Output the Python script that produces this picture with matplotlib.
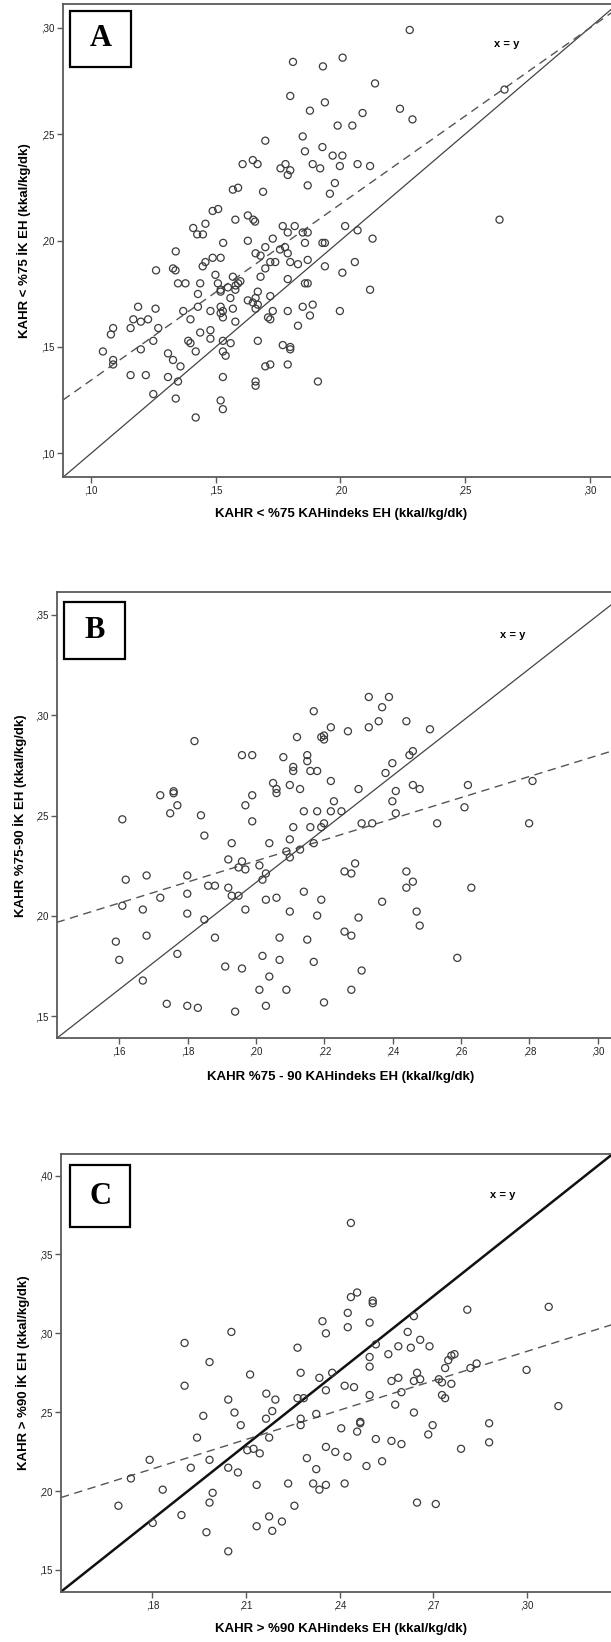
import numpy as np
import matplotlib
matplotlib.use("Agg")
import matplotlib.pyplot as plt
from matplotlib.patches import Rectangle

# Panel A: KAHR < %75
a_x = [0.2278, 0.2009, 0.1810, 0.1930, 0.2139, 0.2658, 0.1799, 0.1938, 0.1878, 0.2239,
       0.2089, 0.2289, 0.1989, 0.2048, 0.1849, 0.1699, 0.1928, 0.1858, 0.1969, 0.2008,
       0.1649, 0.1608, 0.1668, 0.1780, 0.1889, 0.2069, 0.1760, 0.1919, 0.1998, 0.2119,
       0.1799, 0.1789, 0.1978, 0.1869, 0.1569, 0.1590, 0.1690, 0.1958, 0.1488, 0.1510,
       0.1629, 0.1651, 0.1658, 0.1579, 0.2638, 0.1410, 0.1426, 0.1449, 0.1459, 0.1769,
       0.1817, 0.1789, 0.1849, 0.1869, 0.2019, 0.2069, 0.2129, 0.1530, 0.1629, 0.1729,
       0.1858, 0.1928, 0.1938, 0.1699, 0.1758, 0.1778, 0.1340, 0.1660, 0.1680, 0.1789,
       0.1488, 0.1520, 0.1459, 0.1448, 0.1719, 0.1739, 0.1799, 0.2058, 0.1869, 0.1261,
       0.1329, 0.1339, 0.1499, 0.1699, 0.1830, 0.1938, 0.1569, 0.1680, 0.1789, 0.2008,
       0.1349, 0.1379, 0.1438, 0.1509, 0.1580, 0.1599, 0.1590, 0.1858, 0.1869, 0.1549,
       0.1520, 0.1520, 0.1579, 0.2119, 0.1429, 0.1669, 0.1559, 0.1660, 0.1719, 0.1629,
       0.1649, 0.1669, 0.1189, 0.1429, 0.1520, 0.1849, 0.1889, 0.1259, 0.1569, 0.1660,
       0.1370, 0.1479, 0.1529, 0.1520, 0.1729, 0.1789, 0.1998, 0.1529, 0.1399, 0.1170,
       0.1200, 0.1229, 0.1579, 0.1710, 0.1719, 0.1878, 0.1830, 0.1159, 0.1089, 0.1270,
       0.1080, 0.1438, 0.1479, 0.1479, 0.1390, 0.1399, 0.1250, 0.1529, 0.1560, 0.1669,
       0.1769, 0.1799, 0.1799, 0.1200, 0.1048, 0.1309, 0.1420, 0.1529, 0.1540, 0.1329,
       0.1089, 0.1089, 0.1359, 0.1699, 0.1719, 0.1789, 0.1159, 0.1220, 0.1309, 0.1529,
       0.1349, 0.1660, 0.1660, 0.1910, 0.1250, 0.1340, 0.1520, 0.1529, 0.1420]
a_y = [0.2989, 0.2859, 0.2839, 0.2818, 0.2738, 0.2709, 0.2679, 0.2649, 0.2610, 0.2619,
       0.2599, 0.2569, 0.2540, 0.2540, 0.2489, 0.2469, 0.2439, 0.2419, 0.2399, 0.2399,
       0.2378, 0.2359, 0.2359, 0.2359, 0.2359, 0.2359, 0.2339, 0.2339, 0.2350, 0.2350,
       0.2330, 0.2308, 0.2270, 0.2259, 0.2239, 0.2248, 0.2229, 0.2220, 0.2139, 0.2148,
       0.2118, 0.2098, 0.2089, 0.2098, 0.2098, 0.2059, 0.2029, 0.2029, 0.2079, 0.2068,
       0.2068, 0.2038, 0.2038, 0.2038, 0.2068, 0.2048, 0.2009, 0.1989, 0.1999, 0.2009,
       0.1989, 0.1989, 0.1989, 0.1969, 0.1958, 0.1969, 0.1949, 0.1940, 0.1929, 0.1940,
       0.1919, 0.1919, 0.1899, 0.1879, 0.1899, 0.1899, 0.1899, 0.1899, 0.1909, 0.1860,
       0.1869, 0.1860, 0.1839, 0.1869, 0.1889, 0.1879, 0.1830, 0.1830, 0.1819, 0.1849,
       0.1799, 0.1799, 0.1799, 0.1799, 0.1789, 0.1809, 0.1799, 0.1799, 0.1799, 0.1780,
       0.1769, 0.1760, 0.1769, 0.1769, 0.1749, 0.1760, 0.1730, 0.1730, 0.1739, 0.1719,
       0.1709, 0.1699, 0.1689, 0.1689, 0.1689, 0.1689, 0.1699, 0.1680, 0.1680, 0.1680,
       0.1669, 0.1669, 0.1669, 0.1659, 0.1669, 0.1669, 0.1669, 0.1639, 0.1630, 0.1630,
       0.1619, 0.1630, 0.1619, 0.1639, 0.1630, 0.1648, 0.1600, 0.1589, 0.1589, 0.1589,
       0.1559, 0.1568, 0.1579, 0.1539, 0.1529, 0.1518, 0.1529, 0.1529, 0.1518, 0.1529,
       0.1509, 0.1500, 0.1489, 0.1489, 0.1479, 0.1470, 0.1479, 0.1479, 0.1459, 0.1439,
       0.1439, 0.1418, 0.1409, 0.1409, 0.1418, 0.1418, 0.1368, 0.1368, 0.1359, 0.1359,
       0.1338, 0.1338, 0.1318, 0.1338, 0.1279, 0.1258, 0.1249, 0.1208, 0.1169]

# Panel B: KAHR %75-90
b_x = [0.2330, 0.2389, 0.2369, 0.2169, 0.2359, 0.2440, 0.2330, 0.2219, 0.2509, 0.2269,
       0.2191, 0.2199, 0.2199, 0.2120, 0.1820, 0.1959, 0.1989, 0.2080, 0.2150, 0.2150,
       0.2449, 0.2459, 0.2399, 0.2109, 0.2109, 0.2159, 0.2179, 0.2379, 0.2219, 0.2809,
       0.2050, 0.2060, 0.2060, 0.2099, 0.2129, 0.2300, 0.2409, 0.2459, 0.2479, 0.2620,
       0.1720, 0.1759, 0.1759, 0.1989, 0.1770, 0.1969, 0.1749, 0.2228, 0.2399, 0.2610,
       0.1609, 0.1839, 0.1989, 0.2140, 0.2179, 0.2219, 0.2250, 0.2409, 0.2309, 0.2340,
       0.2530, 0.2799, 0.2109, 0.2159, 0.2191, 0.2199, 0.1849, 0.1929, 0.2039, 0.2169,
       0.2099, 0.2129, 0.2089, 0.2099, 0.1919, 0.1959, 0.2290, 0.1949, 0.1969, 0.2010,
       0.2259, 0.2279, 0.2440, 0.2029, 0.1619, 0.1680, 0.1799, 0.2019, 0.2459, 0.1860,
       0.1880, 0.1919, 0.2440, 0.2630, 0.1799, 0.1929, 0.1949, 0.1720, 0.2029, 0.2060,
       0.2140, 0.2191, 0.2369, 0.1609, 0.1669, 0.1969, 0.2099, 0.2470, 0.1799, 0.2179,
       0.2300, 0.1849, 0.2479, 0.2259, 0.2279, 0.1590, 0.1680, 0.1880, 0.2069, 0.2150,
       0.1600, 0.1770, 0.2019, 0.2069, 0.2589, 0.1910, 0.1959, 0.2169, 0.2309, 0.1669,
       0.2039, 0.2010, 0.2089, 0.2279, 0.2199, 0.1739, 0.1799, 0.1830, 0.2029, 0.1939]
b_y = [0.3091, 0.3091, 0.3040, 0.3020, 0.2970, 0.2970, 0.2940, 0.2940, 0.2930, 0.2920,
       0.2891, 0.2899, 0.2879, 0.2891, 0.2871, 0.2801, 0.2801, 0.2791, 0.2801, 0.2771,
       0.2801, 0.2821, 0.2761, 0.2742, 0.2722, 0.2722, 0.2722, 0.2712, 0.2672, 0.2672,
       0.2662, 0.2632, 0.2612, 0.2652, 0.2632, 0.2632, 0.2622, 0.2652, 0.2632, 0.2652,
       0.2601, 0.2621, 0.2611, 0.2601, 0.2551, 0.2551, 0.2511, 0.2571, 0.2571, 0.2541,
       0.2481, 0.2501, 0.2471, 0.2521, 0.2521, 0.2521, 0.2521, 0.2511, 0.2461, 0.2461,
       0.2461, 0.2461, 0.2442, 0.2442, 0.2442, 0.2461, 0.2400, 0.2362, 0.2362, 0.2362,
       0.2381, 0.2330, 0.2321, 0.2291, 0.2281, 0.2271, 0.2261, 0.2241, 0.2231, 0.2251,
       0.2221, 0.2211, 0.2221, 0.2211, 0.2180, 0.2201, 0.2201, 0.2180, 0.2170, 0.2150,
       0.2150, 0.2140, 0.2140, 0.2140, 0.2110, 0.2100, 0.2100, 0.2090, 0.2080, 0.2090,
       0.2120, 0.2080, 0.2070, 0.2050, 0.2031, 0.2031, 0.2021, 0.2021, 0.2011, 0.2001,
       0.1991, 0.1981, 0.1951, 0.1921, 0.1901, 0.1871, 0.1901, 0.1891, 0.1891, 0.1881,
       0.1780, 0.1810, 0.1800, 0.1780, 0.1790, 0.1747, 0.1737, 0.1770, 0.1727, 0.1677,
       0.1697, 0.1631, 0.1631, 0.1631, 0.1568, 0.1561, 0.1551, 0.1541, 0.1551, 0.1522]

# Panel C: KAHR > %90
c_x = [0.2436, 0.2456, 0.2436, 0.2506, 0.2506, 0.3070, 0.2809, 0.2426, 0.2638, 0.2345,
       0.2496, 0.2426, 0.2053, 0.2618, 0.2356, 0.1903, 0.2516, 0.2588, 0.2628, 0.2688,
       0.2265, 0.2658, 0.2556, 0.2758, 0.2768, 0.2748, 0.2496, 0.1983, 0.2839, 0.2819,
       0.2738, 0.2496, 0.2999, 0.2275, 0.2376, 0.2648, 0.2113, 0.2335, 0.2588, 0.2658,
       0.2718, 0.2638, 0.2566, 0.2728, 0.2758, 0.1903, 0.2416, 0.2446, 0.2356, 0.2598,
       0.2165, 0.2496, 0.2728, 0.2738, 0.2265, 0.2285, 0.2043, 0.2194, 0.2578, 0.3101,
       0.2063, 0.2184, 0.2638, 0.1963, 0.2325, 0.2275, 0.2164, 0.2466, 0.2466, 0.2879,
       0.2083, 0.2275, 0.2698, 0.2405, 0.2456, 0.2684, 0.1943, 0.2174, 0.2516, 0.2566,
       0.2598, 0.2879, 0.2104, 0.2124, 0.2144, 0.2356, 0.2386, 0.2789, 0.2425, 0.2295,
       0.1791, 0.1983, 0.2536, 0.1923, 0.2043, 0.2486, 0.2325, 0.1731, 0.2074, 0.2235,
       0.2315, 0.2416, 0.2134, 0.2356, 0.2335, 0.1833, 0.1993, 0.1983, 0.2648, 0.2708,
       0.1691, 0.2255, 0.1893, 0.2174, 0.2215, 0.1801, 0.2134, 0.1973, 0.2184, 0.2043]
c_y = [0.3700, 0.3259, 0.3230, 0.3207, 0.3191, 0.3168, 0.3150, 0.3130, 0.3109, 0.3077,
       0.3068, 0.3039, 0.3009, 0.3009, 0.3000, 0.2939, 0.2930, 0.2918, 0.2909, 0.2918,
       0.2909, 0.2959, 0.2868, 0.2859, 0.2868, 0.2830, 0.2850, 0.2818, 0.2809, 0.2780,
       0.2780, 0.2789, 0.2768, 0.2750, 0.2750, 0.2750, 0.2739, 0.2718, 0.2718, 0.2709,
       0.2709, 0.2698, 0.2698, 0.2689, 0.2680, 0.2668, 0.2668, 0.2659, 0.2639, 0.2627,
       0.2618, 0.2609, 0.2609, 0.2589, 0.2589, 0.2589, 0.2580, 0.2580, 0.2548, 0.2539,
       0.2498, 0.2507, 0.2498, 0.2477, 0.2489, 0.2459, 0.2459, 0.2439, 0.2430, 0.2430,
       0.2418, 0.2418, 0.2418, 0.2398, 0.2377, 0.2359, 0.2339, 0.2339, 0.2330, 0.2318,
       0.2298, 0.2309, 0.2259, 0.2268, 0.2239, 0.2280, 0.2248, 0.2268, 0.2218, 0.2209,
       0.2198, 0.2198, 0.2189, 0.2148, 0.2148, 0.2159, 0.2139, 0.2080, 0.2118, 0.2048,
       0.2048, 0.2048, 0.2039, 0.2039, 0.2009, 0.2009, 0.1989, 0.1927, 0.1927, 0.1918,
       0.1907, 0.1907, 0.1848, 0.1839, 0.1807, 0.1798, 0.1777, 0.1739, 0.1748, 0.1618]

# axis ranges and reference lines (solid = "x = y", dashed = fit)
a_lim_x, a_lim_y = [0.0888, 0.3111], [0.0888, 0.3111]
b_lim_x, b_lim_y = [0.1417, 0.3086], [0.1389, 0.3613]
c_lim_x, c_lim_y = [0.1507, 0.3276], [0.1362, 0.4139]
a_fit = [0.1251, 0.3090]
b_fit = [0.1967, 0.2845]
c_fit = [0.1959, 0.3057]

a_ticks_x = [0.10, 0.15, 0.20, 0.25, 0.30]
a_ticks_y = [0.10, 0.15, 0.20, 0.25, 0.30]
b_ticks_x = [0.16, 0.18, 0.20, 0.22, 0.24, 0.26, 0.28, 0.30]
b_ticks_y = [0.15, 0.20, 0.25, 0.30, 0.35]
c_ticks_x = [0.18, 0.21, 0.24, 0.27, 0.30]
c_ticks_y = [0.15, 0.20, 0.25, 0.30, 0.35, 0.40]

W, H = 611, 1642
fig = plt.figure(figsize=(W / 100, H / 100), dpi=100)
fig.patch.set_facecolor('white')

SANS = ['Liberation Sans', 'DejaVu Sans']
GRAY = '#5a5a5a'


def fmt(v):
    return ('%.2f' % v)[1:].replace('.', ',')


def panel(box, xs, ys, limx, limy, fit, tx, ty, letter, letter_box, xlabel, ylabel,
          ylab_x, xlab_y, solid_lw, solid_col):
    l, r, t, b = box
    ax = fig.add_axes([l / W, 1 - b / H, (r - l) / W, (b - t) / H])
    ax.set_xlim(limx)
    ax.set_ylim(limy)
    ax.plot(limx, limy, color=solid_col, lw=solid_lw, zorder=2)
    ax.plot(limx, fit, color='#555555', lw=1.0, dashes=(6, 4), zorder=2)
    ax.scatter(xs, ys, s=26, facecolors='none', edgecolors='#3c3c3c', linewidths=0.9, zorder=3)
    ax.set_xticks(tx)
    ax.set_yticks(ty)
    ax.set_xticklabels([fmt(v) for v in tx], family=SANS, fontsize=7, color='#222222')
    ax.set_yticklabels([fmt(v) for v in ty], family=SANS, fontsize=7, color='#222222')
    ax.tick_params(direction='out', length=4, width=1.0, color=GRAY, pad=2)
    for s in ax.spines.values():
        s.set_color(GRAY)
        s.set_linewidth(1.3)
    ax.text(0.80, 0.915 if letter == 'A' else 0.905, 'x = y', transform=ax.transAxes,
            ha='center', va='center', fontsize=8, fontweight='bold', family=SANS)
    bx0, by0, bx1, by1 = letter_box
    fig.patches.append(Rectangle((bx0 / W, 1 - by1 / H), (bx1 - bx0) / W, (by1 - by0) / H,
                                 transform=fig.transFigure, fill=False, lw=1.6,
                                 edgecolor='black', zorder=5))
    fig.text((bx0 + bx1) / 2 / W, 1 - (by0 + by1) / 2 / H, letter,
             ha='center', va='center', fontsize=22, fontweight='bold',
             family=['Liberation Serif', 'DejaVu Serif'])
    fig.text(ylab_x / W, 1 - (t + b) / 2 / H, ylabel, rotation=90, ha='center', va='center',
             fontsize=9.5, fontweight='bold', family=SANS)
    fig.text(341 / W, 1 - xlab_y / H, xlabel, ha='center', va='center',
             fontsize=9.5, fontweight='bold', family=SANS)
    return ax


panel((63, 617.5, 4, 477.3), a_x, a_y, a_lim_x, a_lim_y, a_fit, a_ticks_x, a_ticks_y,
      'A', (70, 10.7, 130.7, 66.7),
      'KAHR < %75 KAHindeks EH (kkal/kg/dk)', 'KAHR < %75 İK EH (kkal/kg/dk)',
      24, 514, 0.9, '#444444')
panel((56.7, 627.2, 592.3, 1038.3), b_x, b_y, b_lim_x, b_lim_y, b_fit, b_ticks_x, b_ticks_y,
      'B', (64.3, 601.7, 124.7, 659.3),
      'KAHR %75 - 90 KAHindeks EH (kkal/kg/dk)', 'KAHR %75-90 İK EH (kkal/kg/dk)',
      19.5, 1077, 0.9, '#444444')
panel((61, 613, 1153.7, 1591.7), c_x, c_y, c_lim_x, c_lim_y, c_fit, c_ticks_x, c_ticks_y,
      'C', (70, 1165.3, 130.3, 1227),
      'KAHR > %90 KAHindeks EH (kkal/kg/dk)', 'KAHR > %90 İK EH (kkal/kg/dk)',
      23, 1629, 1.8, '#111111')

fig.savefig('out.png', dpi=100, facecolor='white')
